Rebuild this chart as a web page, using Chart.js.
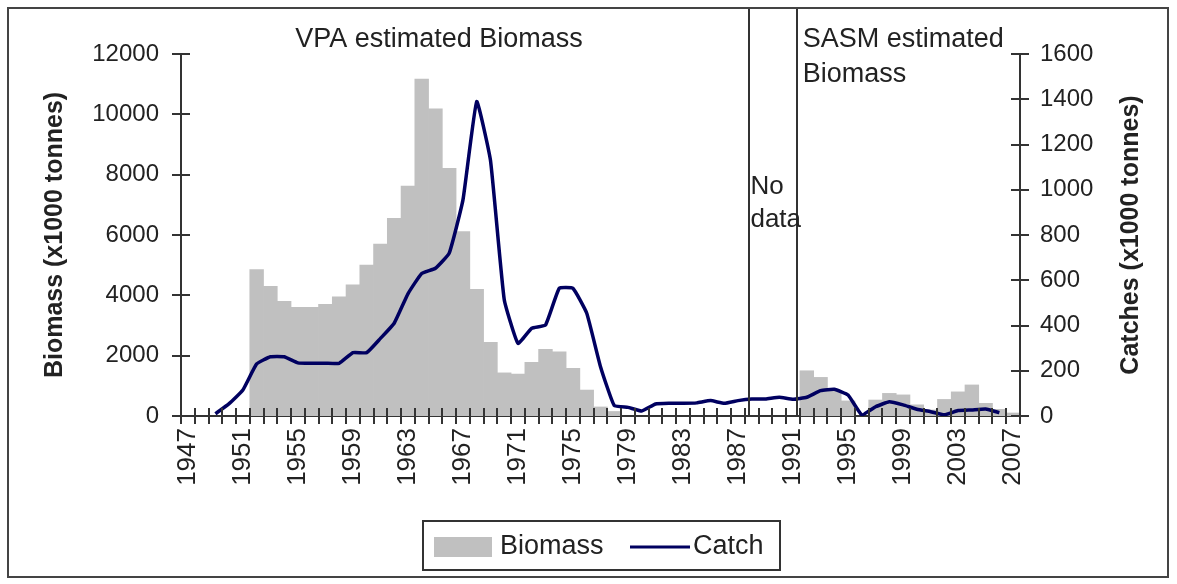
<!DOCTYPE html>
<html>
<head>
<meta charset="utf-8">
<script src="https://cdn.jsdelivr.net/npm/chart.js@4.4.0/dist/chart.umd.min.js"></script>
<style>
  html, body { margin: 0; padding: 0; background: #fff; }
  #wrap { width: 1177px; height: 584px; position: relative; }
</style>
</head>
<body>
<div id="wrap"><canvas id="stockChart"></canvas></div>
<script>
// --- data ---
const years = [];
for (let y = 1947; y <= 2007; y++) years.push(String(y));

// Biomass (x1000 tonnes), left axis; null = no estimate
const biomass = [
  null, null, null, null, null,
  4850, 4300, 3800, 3600, 3600, 3700, 3950, 4350, 5000, 5700,
  6550, 7620, 11170, 10180, 8210, 6110, 4200, 2440, 1430, 1390,
  1780, 2210, 2130, 1580, 860, 300, 150,
  null, null, null, null, null, null, null, null, null, null, null, null, null,
  1500, 1280, 850, 500, null, 530, 750, 700, 370, 200,
  550, 800, 1030, 420, 220, 100
];

// Catches (x1000 tonnes), right axis
const catches = [
  null, null, 10, 55, 115, 230, 262, 262, 235, 233,
  233, 233, 280, 280, 343, 410, 540, 630, 653, 720,
  955, 1390, 1130, 515, 321, 388, 402, 564, 564, 454,
  218, 46, 38, 22, 53, 56, 56, 58, 68, 56,
  68, 75, 75, 83, 74, 83, 112, 118, 93, 5,
  41, 63, 49, 30, 19, 5, 24, 27, 31, 15,
  null
];

const biomassTicks = [0, 2000, 4000, 6000, 8000, 10000, 12000];
const catchTicks = [0, 200, 400, 600, 800, 1000, 1200, 1400, 1600];

// boundaries of the "No data" period (in years, fractional = within a category)
const dividers = [1988.3, 1991.8];

const FONT = "'Liberation Sans', Arial, sans-serif";
const INK = '#222';

// --- extras: crossing tick marks, annotations, right title, legend, frame ---
const decorations = {
  id: 'decorations',
  afterDraw(chart) {
    const ctx = chart.ctx;
    const xs = chart.scales.x, yl = chart.scales.y, yr = chart.scales.y1;
    const catW = (xs.right - xs.left) / years.length;
    const yearX = yr0 => xs.left + (yr0 - 1947) * catW;

    ctx.save();
    ctx.strokeStyle = '#333';
    ctx.lineWidth = 2;

    // tick marks crossing the axes
    ctx.beginPath();
    for (let i = 0; i <= years.length; i++) {
      const px = Math.round(xs.left + i * catW);
      ctx.moveTo(px, xs.top - 8);
      ctx.lineTo(px, xs.top + 8);
    }
    biomassTicks.forEach(v => {
      const py = Math.round(yl.getPixelForValue(v));
      ctx.moveTo(yl.right - 9, py);
      ctx.lineTo(yl.right + 9, py);
    });
    catchTicks.forEach(v => {
      const py = Math.round(yr.getPixelForValue(v));
      ctx.moveTo(yr.left - 9, py);
      ctx.lineTo(yr.left + 9, py);
    });
    ctx.stroke();

    // "No data" period lines
    ctx.beginPath();
    dividers.forEach(d => {
      const px = Math.round(yearX(d));
      ctx.moveTo(px, 8);
      ctx.lineTo(px, xs.top);
    });
    ctx.stroke();

    // annotations
    ctx.fillStyle = INK;
    ctx.textBaseline = 'middle';
    ctx.textAlign = 'left';
    ctx.font = '27px ' + FONT;
    ctx.fillText('VPA estimated Biomass', yearX(1955.3), 40);
    ctx.fillText('SASM estimated', yearX(1992.2), 40);
    ctx.fillText('Biomass', yearX(1992.2), 75);
    ctx.font = '26px ' + FONT;
    ctx.fillText('No', yearX(1988.4), 187);
    ctx.fillText('data', yearX(1988.4), 220);

    // right axis title, reading bottom to top
    ctx.save();
    ctx.translate(1131, (yr.top + yr.bottom) / 2);
    ctx.rotate(-Math.PI / 2);
    ctx.textAlign = 'center';
    ctx.font = 'bold 25px ' + FONT;
    ctx.fillText('Catches (x1000 tonnes)', 0, 0);
    ctx.restore();

    // legend
    const [bars, line] = chart.data.datasets;
    ctx.strokeStyle = '#333';
    ctx.lineWidth = 2;
    ctx.strokeRect(423, 521, 357, 49);
    ctx.fillStyle = bars.backgroundColor;
    ctx.fillRect(434, 537, 58, 20);
    ctx.strokeStyle = line.borderColor;
    ctx.lineWidth = 3;
    ctx.beginPath();
    ctx.moveTo(630, 547);
    ctx.lineTo(690, 547);
    ctx.stroke();
    ctx.fillStyle = INK;
    ctx.font = '27px ' + FONT;
    ctx.fillText(bars.label, 500, 547);
    ctx.fillText(line.label, 693, 547);

    // outer frame
    ctx.strokeStyle = '#444';
    ctx.lineWidth = 2;
    ctx.strokeRect(8, 8, 1160, 569);
    ctx.restore();
  }
};

new Chart(document.getElementById('stockChart').getContext('2d'), {
  data: {
    labels: years,
    datasets: [
      {
        type: 'bar',
        label: 'Biomass',
        data: biomass,
        yAxisID: 'y',
        backgroundColor: '#c0c0c0',
        borderWidth: 0,
        categoryPercentage: 1.0,
        barPercentage: 1.0,
        order: 2
      },
      {
        type: 'line',
        label: 'Catch',
        data: catches,
        yAxisID: 'y1',
        borderColor: '#000060',
        borderWidth: 3.5,
        borderJoinStyle: 'round',
        pointRadius: 0,
        tension: 0.12,
        fill: false,
        order: 1
      }
    ]
  },
  options: {
    responsive: true,
    maintainAspectRatio: false,
    animation: false,
    layout: { padding: { left: 10, right: 10, top: 54, bottom: 74 } },
    plugins: {
      legend: { display: false },
      tooltip: { enabled: false }
    },
    scales: {
      x: {
        offset: true,
        grid: { display: false, drawTicks: false },
        border: { display: true, color: '#333', width: 2 },
        ticks: {
          autoSkip: false,
          maxRotation: 90,
          minRotation: 90,
          padding: 12,
          color: INK,
          font: { family: FONT, size: 26 },
          callback: function (value, index) {
            return (index % 4 === 0) ? years[index] : '';
          }
        },
        afterFit: scale => { scale.height = 94; }
      },
      y: {
        position: 'left',
        min: 0,
        max: 12000,
        grid: { display: false, drawTicks: false },
        border: { display: true, color: '#333', width: 2 },
        ticks: {
          stepSize: 2000,
          padding: 22,
          color: INK,
          font: { family: FONT, size: 24 },
          callback: v => String(v)
        },
        title: {
          display: true,
          text: 'Biomass (x1000 tonnes)',
          color: INK,
          font: { family: FONT, size: 25, weight: 'bold' },
          padding: { top: 30, bottom: 0 }
        },
        afterFit: scale => { scale.width = 171; }
      },
      y1: {
        position: 'right',
        min: 0,
        max: 1600,
        grid: { display: false, drawTicks: false },
        border: { display: true, color: '#333', width: 2 },
        ticks: {
          stepSize: 200,
          padding: 20,
          color: INK,
          font: { family: FONT, size: 24 },
          callback: v => String(v)
        },
        afterFit: scale => { scale.width = 147; }
      }
    }
  },
  plugins: [decorations]
});
</script>
</body>
</html>
